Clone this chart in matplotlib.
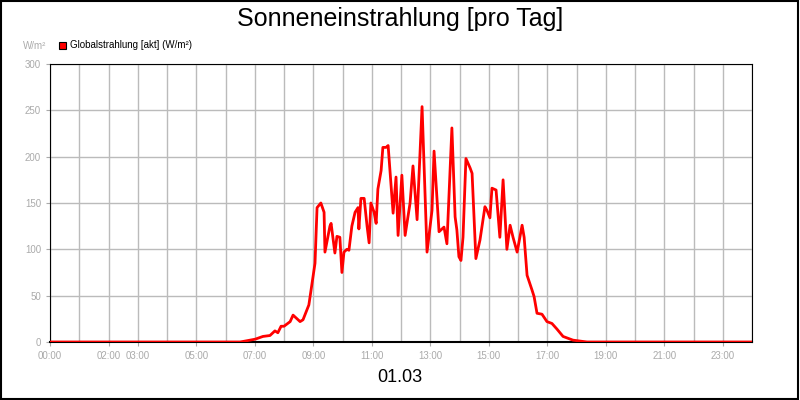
import matplotlib.pyplot as plt
from matplotlib.patches import Rectangle

plt.rcParams["font.family"] = ["Liberation Sans", "DejaVu Sans"]

hours = [0, 6.50, 7.01, 7.28, 7.52, 7.69, 7.79, 7.90, 8.00, 8.21, 8.31, 8.55, 8.65,
         8.85, 8.99, 9.06, 9.13, 9.26, 9.37, 9.40, 9.57, 9.61, 9.74, 9.81, 9.91,
         9.98, 10.05, 10.15, 10.22, 10.32, 10.43, 10.53, 10.56, 10.63, 10.74,
         10.84, 10.91, 10.97, 11.08, 11.15, 11.21, 11.32, 11.38, 11.49, 11.56,
         11.73, 11.83, 11.90, 12.03, 12.14, 12.31, 12.41, 12.55, 12.72, 12.89,
         13.06, 13.13, 13.30, 13.47, 13.57, 13.74, 13.85, 13.91, 13.98, 14.05,
         14.12, 14.22, 14.36, 14.43, 14.56, 14.70, 14.87, 14.94, 15.04, 15.11,
         15.25, 15.38, 15.49, 15.62, 15.73, 15.83, 15.97, 16.14, 16.21, 16.31,
         16.48, 16.55, 16.65, 16.82, 16.99, 17.16, 17.33, 17.54, 17.88, 18.36, 24]
radiation = [0, 0, 3, 6, 7, 12, 10, 17, 17, 22, 29, 22, 24,
             40, 70, 85, 145, 150, 140, 97, 125, 128, 96, 114, 113,
             75, 97, 100, 99, 125, 140, 145, 122, 155, 155,
             125, 107, 150, 140, 128, 165, 185, 210, 210, 212,
             139, 178, 115, 180, 115, 150, 190, 132, 254, 97,
             142, 206, 119, 124, 106, 231, 135, 121, 92, 88,
             113, 198, 188, 182, 90, 110, 146, 142, 134, 166,
             164, 113, 175, 100, 126, 113, 97, 126, 113, 72,
             56, 49, 31, 30, 22, 20, 14, 6, 2, 0, 0]
tick_hours = [0, 2, 3, 5, 7, 9, 11, 13, 15, 17, 19, 21, 23]
tick_labels = ["00:00", "02:00", "03:00", "05:00", "07:00", "09:00", "11:00",
               "13:00", "15:00", "17:00", "19:00", "21:00", "23:00"]

fig = plt.figure(figsize=(8, 4), dpi=100, facecolor="white")
ax = fig.add_axes([50 / 800, 58 / 400, 702 / 800, 278 / 400])

ax.plot(hours, radiation, color="#ff0000", linewidth=2, zorder=3)
ax.set_xlim(0, 24)
ax.set_ylim(0, 300)
ax.set_xticks(range(25), minor=True)
ax.set_xticks(tick_hours)
ax.set_xticklabels(tick_labels)
ax.set_yticks(range(0, 301, 50))
ax.grid(which="both", color="#bbbbbb", linewidth=1, zorder=0)
ax.tick_params(which="both", length=3, colors="#aaaaaa", labelsize=7)
ax.tick_params(which="minor", length=0)
for s in ax.spines.values():
    s.set_color("black")
ax.spines["bottom"].set_linewidth(1.5)

fig.text(0.5, 0.953, "Sonneneinstrahlung [pro Tag]", ha="center", va="center", fontsize=18)
fig.text(0.5, 0.055, "01.03", ha="center", va="center", fontsize=13)
fig.text(23 / 800, 1 - 46 / 400, "W/m²", ha="left", va="center", fontsize=7, color="#aaaaaa")
fig.patches.append(Rectangle((59 / 800, 1 - 49 / 400), 7 / 800, 7 / 400,
                             transform=fig.transFigure, facecolor="#ff0000", edgecolor="black", lw=0.8))
fig.text(70 / 800, 1 - 45 / 400, "Globalstrahlung [akt] (W/m²)", ha="left", va="center", fontsize=7)
fig.patches.append(Rectangle((0.001, 0.002), 0.997, 0.996, transform=fig.transFigure,
                             fill=False, edgecolor="black", lw=1.5))

fig.savefig("out.png", dpi=100)
